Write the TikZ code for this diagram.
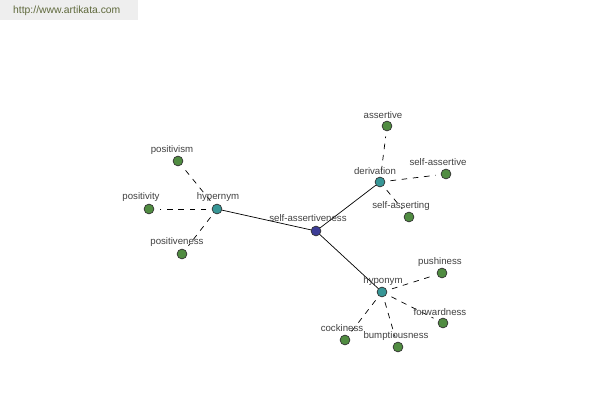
\documentclass[tikz,border=0pt]{standalone}
\usepackage{fontspec}
\setmainfont{Liberation Sans}
\usepackage{xcolor}
\usepackage{tikz}
\usetikzlibrary{positioning}

\definecolor{leafgreen}{RGB}{80,140,65}
\definecolor{hubteal}{RGB}{55,150,150}
\definecolor{rootblue}{RGB}{60,60,150}
\definecolor{labelgray}{RGB}{64,64,64}
\definecolor{markolive}{RGB}{95,105,60}
\definecolor{markbg}{RGB}{238,238,238}

\tikzset{
   dot/.style={circle, draw=black!80, line width=0.4pt, inner sep=0pt, minimum size=5.6pt},
   leaf/.style={dot, fill=leafgreen},
   hub/.style={dot, fill=hubteal},
   root/.style={dot, fill=rootblue},
   lbl/.style={font=\fontsize{5.5}{6}\selectfont, text=labelgray, inner sep=0pt},
   solidlink/.style={line width=0.4pt},
   dashlink/.style={line width=0.4pt, dash pattern=on 3.2pt off 3.2pt, shorten >=3pt, shorten <=3pt}
}

\begin{document}
\begin{tikzpicture}[x=0.02cm, y=-0.02cm]
   \useasboundingbox (0, 0) rectangle (600, 400);
   % watermark
   \fill[markbg] (0, 0) rectangle (138, 20);
   \node[font=\fontsize{5.9}{7}\selectfont, text=markolive, anchor=west] (mark) at (7, 11) {http://www.artikata.com};

   % centre and hubs
   \node[root] (self) at (316, 231) {};
   \node[hub] (hyper) at (217, 209) {};
   \node[hub] (deriv) at (380, 182) {};
   \node[hub] (hypo) at (382, 292) {};

   % leaves
   \node[leaf] (positivism) at (178, 161) {};
   \node[leaf] (positivity) at (149, 209) {};
   \node[leaf] (positiveness) at (182, 254) {};
   \node[leaf] (assertive) at (387, 126) {};
   \node[leaf] (selfassertive) at (446, 174) {};
   \node[leaf] (selfasserting) at (409, 217) {};
   \node[leaf] (pushiness) at (442, 273) {};
   \node[leaf] (forwardness) at (443, 323) {};
   \node[leaf] (bumptiousness) at (398, 347) {};
   \node[leaf] (cockiness) at (345, 340) {};

   \path (self) edge[solidlink] (hyper)
         (self) edge[solidlink] (deriv)
         (self) edge[solidlink] (hypo);

   \path (hyper) edge[dashlink] (positivism)
         (hyper) edge[dashlink] (positivity)
         (hyper) edge[dashlink] (positiveness);
   \path (deriv) edge[dashlink] (assertive)
         (deriv) edge[dashlink] (selfassertive)
         (deriv) edge[dashlink] (selfasserting);
   \path (hypo) edge[dashlink] (pushiness)
         (hypo) edge[dashlink] (forwardness)
         (hypo) edge[dashlink] (bumptiousness)
         (hypo) edge[dashlink] (cockiness);

   % labels
   \node[lbl] (lself) at (308, 218) {self-assertiveness};
   \node[lbl] (lhyper) at (218, 197) {hypernym};
   \node[lbl] (lderiv) at (375, 171) {derivation};
   \node[lbl] (lhypo) at (383, 281) {hyponym};
   \node[lbl] (lpositivism) at (172, 150) {positivism};
   \node[lbl] (lpositivity) at (141, 197) {positivity};
   \node[lbl] (lpositiveness) at (177, 242) {positiveness};
   \node[lbl] (lassertive) at (383, 115) {assertive};
   \node[lbl] (lselfassertive) at (438, 162) {self-assertive};
   \node[lbl] (lselfasserting) at (401, 206) {self-asserting};
   \node[lbl] (lpushiness) at (440, 262) {pushiness};
   \node[lbl] (lforwardness) at (440, 312) {forwardness};
   \node[lbl] (lbumptiousness) at (396, 336) {bumptiousness};
   \node[lbl] (lcockiness) at (342, 328) {cockiness};
\end{tikzpicture}
\end{document}
